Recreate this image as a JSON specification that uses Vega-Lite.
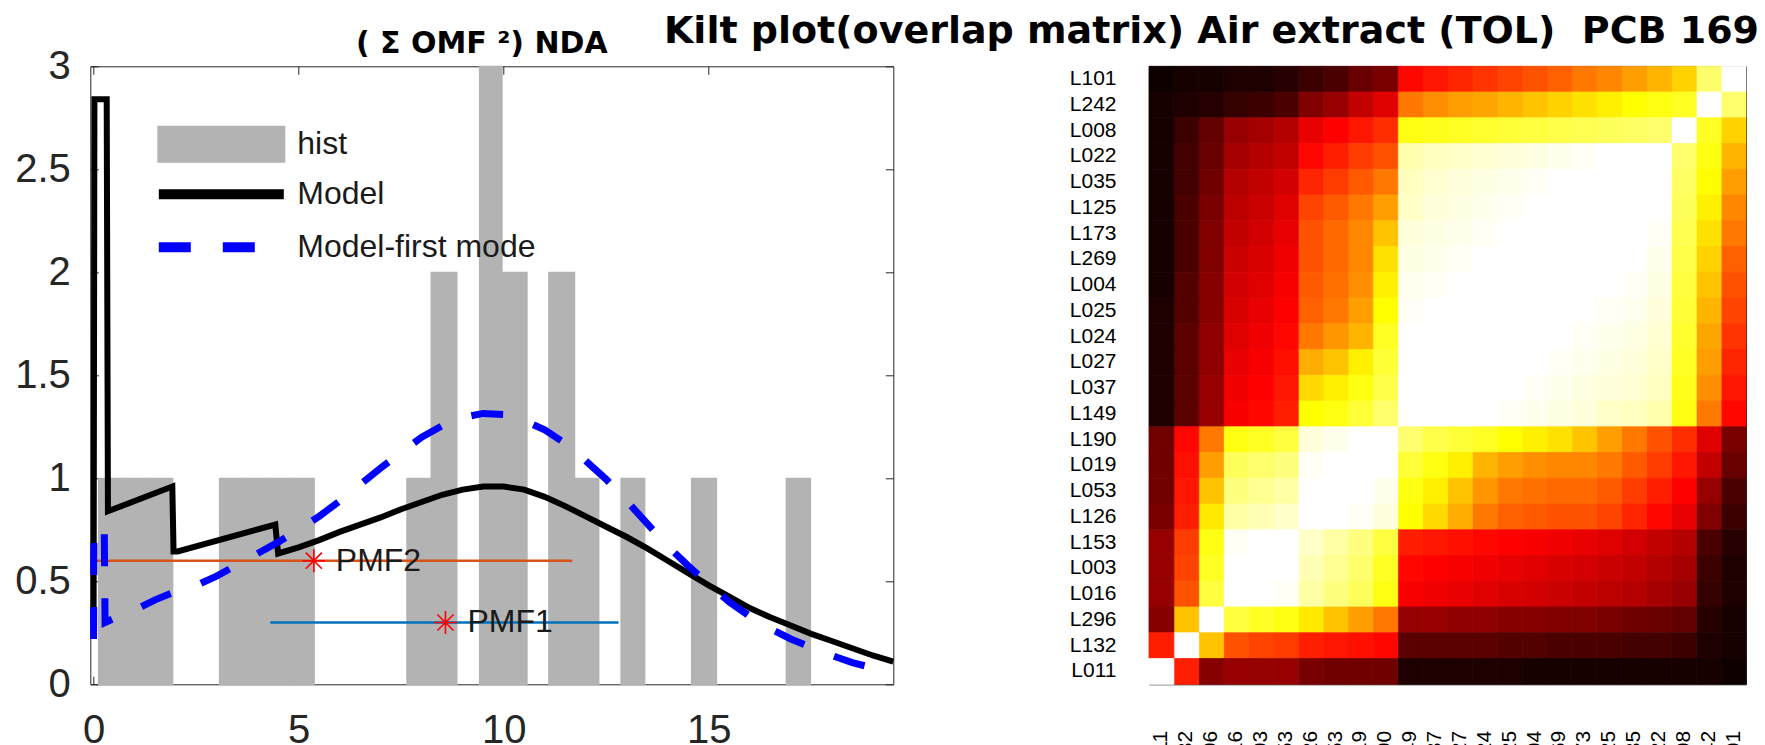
{
"$schema": "https://vega.github.io/schema/vega-lite/v6.json",
"background": "white",
"padding": {"left": 13.3, "top": 11.3, "right": 5, "bottom": 0},
"bounds": "flush",
"spacing": 255.7,
"config": {"view": {"stroke": "#262626", "strokeWidth": 1}, "axis": {"grid": false}},
"datasets": {
"hist": [
{"x0":0.12,"x1":0.72,"n":1,"series":"hist"},{"x0":0.72,"x1":1.33,"n":1,"series":"hist"},{"x0":1.33,"x1":1.93,"n":1,"series":"hist"},
{"x0":3.07,"x1":3.65,"n":1,"series":"hist"},{"x0":3.65,"x1":4.22,"n":1,"series":"hist"},{"x0":4.22,"x1":4.8,"n":1,"series":"hist"},{"x0":4.8,"x1":5.38,"n":1,"series":"hist"},
{"x0":7.64,"x1":8.23,"n":1,"series":"hist"},{"x0":8.23,"x1":8.86,"n":2,"series":"hist"},{"x0":9.41,"x1":9.96,"n":3,"series":"hist"},{"x0":9.96,"x1":10.57,"n":2,"series":"hist"},
{"x0":11.1,"x1":11.73,"n":2,"series":"hist"},{"x0":11.73,"x1":12.32,"n":1,"series":"hist"},{"x0":12.86,"x1":13.44,"n":1,"series":"hist"},{"x0":14.58,"x1":15.19,"n":1,"series":"hist"},{"x0":16.89,"x1":17.48,"n":1,"series":"hist"}
],
"model": [
{"i":0,"x":0.0,"y":0.30,"series":"Model"},{"i":1,"x":0.02,"y":2.84,"series":"Model"},{"i":2,"x":0.32,"y":2.84,"series":"Model"},{"i":3,"x":0.35,"y":0.84,"series":"Model"},
{"i":4,"x":1.92,"y":0.96,"series":"Model"},{"i":5,"x":1.95,"y":0.645,"series":"Model"},{"i":6,"x":2.05,"y":0.645,"series":"Model"},{"i":7,"x":4.43,"y":0.775,"series":"Model"},
{"i":8,"x":4.5,"y":0.635,"series":"Model"},{"i":9,"x":5.0,"y":0.665,"series":"Model"},{"i":10,"x":5.5,"y":0.70,"series":"Model"},{"i":11,"x":6.0,"y":0.74,"series":"Model"},
{"i":12,"x":6.5,"y":0.775,"series":"Model"},{"i":13,"x":7.0,"y":0.81,"series":"Model"},{"i":14,"x":7.5,"y":0.85,"series":"Model"},{"i":15,"x":8.0,"y":0.885,"series":"Model"},
{"i":16,"x":8.5,"y":0.92,"series":"Model"},{"i":17,"x":9.0,"y":0.945,"series":"Model"},{"i":18,"x":9.5,"y":0.96,"series":"Model"},{"i":19,"x":10.0,"y":0.96,"series":"Model"},
{"i":20,"x":10.5,"y":0.945,"series":"Model"},{"i":21,"x":11.0,"y":0.91,"series":"Model"},{"i":22,"x":11.5,"y":0.865,"series":"Model"},{"i":23,"x":12.0,"y":0.815,"series":"Model"},
{"i":24,"x":12.5,"y":0.765,"series":"Model"},{"i":25,"x":13.0,"y":0.715,"series":"Model"},{"i":26,"x":13.5,"y":0.66,"series":"Model"},{"i":27,"x":14.0,"y":0.60,"series":"Model"},
{"i":28,"x":14.5,"y":0.54,"series":"Model"},{"i":29,"x":15.0,"y":0.48,"series":"Model"},{"i":30,"x":15.5,"y":0.425,"series":"Model"},{"i":31,"x":16.0,"y":0.37,"series":"Model"},
{"i":32,"x":16.5,"y":0.325,"series":"Model"},{"i":33,"x":17.0,"y":0.285,"series":"Model"},{"i":34,"x":17.5,"y":0.245,"series":"Model"},{"i":35,"x":18.0,"y":0.21,"series":"Model"},
{"i":36,"x":18.5,"y":0.175,"series":"Model"},{"i":37,"x":19.0,"y":0.14,"series":"Model"},{"i":38,"x":19.5,"y":0.11,"series":"Model"}
],
"first": [
{"i":0,"x":0.0,"y":0.22,"series":"Model-first mode"},{"i":1,"x":0.01,"y":0.76,"series":"Model-first mode"},{"i":2,"x":0.26,"y":0.76,"series":"Model-first mode"},{"i":3,"x":0.28,"y":0.30,"series":"Model-first mode"},
{"i":4,"x":0.5,"y":0.32,"series":"Model-first mode"},{"i":5,"x":1.0,"y":0.36,"series":"Model-first mode"},{"i":6,"x":1.5,"y":0.41,"series":"Model-first mode"},{"i":7,"x":2.0,"y":0.45,"series":"Model-first mode"},
{"i":8,"x":2.5,"y":0.48,"series":"Model-first mode"},{"i":9,"x":3.0,"y":0.525,"series":"Model-first mode"},{"i":10,"x":3.5,"y":0.58,"series":"Model-first mode"},{"i":11,"x":4.0,"y":0.635,"series":"Model-first mode"},
{"i":12,"x":4.5,"y":0.69,"series":"Model-first mode"},{"i":13,"x":5.0,"y":0.75,"series":"Model-first mode"},{"i":14,"x":5.5,"y":0.815,"series":"Model-first mode"},{"i":15,"x":6.0,"y":0.89,"series":"Model-first mode"},
{"i":16,"x":6.5,"y":0.97,"series":"Model-first mode"},{"i":17,"x":7.0,"y":1.05,"series":"Model-first mode"},{"i":18,"x":7.5,"y":1.125,"series":"Model-first mode"},{"i":19,"x":8.0,"y":1.2,"series":"Model-first mode"},
{"i":20,"x":8.5,"y":1.255,"series":"Model-first mode"},{"i":21,"x":9.0,"y":1.295,"series":"Model-first mode"},{"i":22,"x":9.5,"y":1.315,"series":"Model-first mode"},{"i":23,"x":10.0,"y":1.31,"series":"Model-first mode"},
{"i":24,"x":10.5,"y":1.28,"series":"Model-first mode"},{"i":25,"x":11.0,"y":1.235,"series":"Model-first mode"},{"i":26,"x":11.5,"y":1.17,"series":"Model-first mode"},{"i":27,"x":12.0,"y":1.085,"series":"Model-first mode"},
{"i":28,"x":12.5,"y":0.995,"series":"Model-first mode"},{"i":29,"x":13.0,"y":0.89,"series":"Model-first mode"},{"i":30,"x":13.5,"y":0.78,"series":"Model-first mode"},{"i":31,"x":14.0,"y":0.67,"series":"Model-first mode"},
{"i":32,"x":14.5,"y":0.575,"series":"Model-first mode"},{"i":33,"x":15.0,"y":0.485,"series":"Model-first mode"},{"i":34,"x":15.5,"y":0.40,"series":"Model-first mode"},{"i":35,"x":16.0,"y":0.33,"series":"Model-first mode"},
{"i":36,"x":16.5,"y":0.27,"series":"Model-first mode"},{"i":37,"x":17.0,"y":0.22,"series":"Model-first mode"},{"i":38,"x":17.5,"y":0.18,"series":"Model-first mode"},{"i":39,"x":18.0,"y":0.14,"series":"Model-first mode"},
{"i":40,"x":18.5,"y":0.105,"series":"Model-first mode"},{"i":41,"x":19.0,"y":0.08,"series":"Model-first mode"},{"i":42,"x":19.5,"y":0.05,"series":"Model-first mode"}
],
"pmf": [
{"name":"PMF1","mu":8.58,"lo":4.31,"hi":12.8,"level":0.3},
{"name":"PMF2","mu":5.37,"lo":0.0,"hi":11.67,"level":0.6}
],
"kilt": [
{"a":"L101","b":"L101","v":1},{"a":"L101","b":"L242","v":0.8},{"a":"L101","b":"L008","v":0.62},{"a":"L101","b":"L022","v":0.58},{"a":"L101","b":"L035","v":0.55},{"a":"L101","b":"L125","v":0.52},{"a":"L101","b":"L173","v":0.5},{"a":"L101","b":"L269","v":0.47},{"a":"L101","b":"L004","v":0.45},{"a":"L101","b":"L025","v":0.43},{"a":"L101","b":"L024","v":0.41},{"a":"L101","b":"L027","v":0.39},{"a":"L101","b":"L037","v":0.37},{"a":"L101","b":"L149","v":0.35},{"a":"L101","b":"L190","v":0.16},{"a":"L101","b":"L019","v":0.14},{"a":"L101","b":"L053","v":0.1},{"a":"L101","b":"L126","v":0.08},{"a":"L101","b":"L153","v":0.05},{"a":"L101","b":"L003","v":0.04},{"a":"L101","b":"L016","v":0.04},{"a":"L101","b":"L296","v":0.03},{"a":"L101","b":"L132","v":0.03},{"a":"L101","b":"L011","v":0.02},
{"a":"L242","b":"L101","v":0.8},{"a":"L242","b":"L242","v":1},{"a":"L242","b":"L008","v":0.72},{"a":"L242","b":"L022","v":0.7},{"a":"L242","b":"L035","v":0.68},{"a":"L242","b":"L125","v":0.66},{"a":"L242","b":"L173","v":0.64},{"a":"L242","b":"L269","v":0.62},{"a":"L242","b":"L004","v":0.6},{"a":"L242","b":"L025","v":0.58},{"a":"L242","b":"L024","v":0.56},{"a":"L242","b":"L027","v":0.55},{"a":"L242","b":"L037","v":0.53},{"a":"L242","b":"L149","v":0.5},{"a":"L242","b":"L190","v":0.3},{"a":"L242","b":"L019","v":0.26},{"a":"L242","b":"L053","v":0.2},{"a":"L242","b":"L126","v":0.17},{"a":"L242","b":"L153","v":0.1},{"a":"L242","b":"L003","v":0.08},{"a":"L242","b":"L016","v":0.07},{"a":"L242","b":"L296","v":0.05},{"a":"L242","b":"L132","v":0.04},{"a":"L242","b":"L011","v":0.03},
{"a":"L008","b":"L101","v":0.62},{"a":"L008","b":"L242","v":0.72},{"a":"L008","b":"L008","v":1},{"a":"L008","b":"L022","v":0.8},{"a":"L008","b":"L035","v":0.79},{"a":"L008","b":"L125","v":0.78},{"a":"L008","b":"L173","v":0.77},{"a":"L008","b":"L269","v":0.76},{"a":"L008","b":"L004","v":0.75},{"a":"L008","b":"L025","v":0.74},{"a":"L008","b":"L024","v":0.73},{"a":"L008","b":"L027","v":0.72},{"a":"L008","b":"L037","v":0.71},{"a":"L008","b":"L149","v":0.7},{"a":"L008","b":"L190","v":0.4},{"a":"L008","b":"L019","v":0.37},{"a":"L008","b":"L053","v":0.34},{"a":"L008","b":"L126","v":0.31},{"a":"L008","b":"L153","v":0.24},{"a":"L008","b":"L003","v":0.22},{"a":"L008","b":"L016","v":0.2},{"a":"L008","b":"L296","v":0.13},{"a":"L008","b":"L132","v":0.08},{"a":"L008","b":"L011","v":0.03},
{"a":"L022","b":"L101","v":0.58},{"a":"L022","b":"L242","v":0.7},{"a":"L022","b":"L008","v":0.8},{"a":"L022","b":"L022","v":1},{"a":"L022","b":"L035","v":0.97},{"a":"L022","b":"L125","v":0.96},{"a":"L022","b":"L173","v":0.95},{"a":"L022","b":"L269","v":0.94},{"a":"L022","b":"L004","v":0.93},{"a":"L022","b":"L025","v":0.92},{"a":"L022","b":"L024","v":0.91},{"a":"L022","b":"L027","v":0.9},{"a":"L022","b":"L037","v":0.89},{"a":"L022","b":"L149","v":0.87},{"a":"L022","b":"L190","v":0.45},{"a":"L022","b":"L019","v":0.42},{"a":"L022","b":"L053","v":0.38},{"a":"L022","b":"L126","v":0.35},{"a":"L022","b":"L153","v":0.26},{"a":"L022","b":"L003","v":0.24},{"a":"L022","b":"L016","v":0.22},{"a":"L022","b":"L296","v":0.14},{"a":"L022","b":"L132","v":0.09},{"a":"L022","b":"L011","v":0.03},
{"a":"L035","b":"L101","v":0.55},{"a":"L035","b":"L242","v":0.68},{"a":"L035","b":"L008","v":0.79},{"a":"L035","b":"L022","v":0.97},{"a":"L035","b":"L035","v":1},{"a":"L035","b":"L125","v":0.98},{"a":"L035","b":"L173","v":0.97},{"a":"L035","b":"L269","v":0.96},{"a":"L035","b":"L004","v":0.95},{"a":"L035","b":"L025","v":0.94},{"a":"L035","b":"L024","v":0.93},{"a":"L035","b":"L027","v":0.92},{"a":"L035","b":"L037","v":0.91},{"a":"L035","b":"L149","v":0.89},{"a":"L035","b":"L190","v":0.5},{"a":"L035","b":"L019","v":0.46},{"a":"L035","b":"L053","v":0.42},{"a":"L035","b":"L126","v":0.39},{"a":"L035","b":"L153","v":0.28},{"a":"L035","b":"L003","v":0.26},{"a":"L035","b":"L016","v":0.24},{"a":"L035","b":"L296","v":0.15},{"a":"L035","b":"L132","v":0.09},{"a":"L035","b":"L011","v":0.03},
{"a":"L125","b":"L101","v":0.52},{"a":"L125","b":"L242","v":0.66},{"a":"L125","b":"L008","v":0.78},{"a":"L125","b":"L022","v":0.96},{"a":"L125","b":"L035","v":0.98},{"a":"L125","b":"L125","v":1},{"a":"L125","b":"L173","v":0.98},{"a":"L125","b":"L269","v":0.97},{"a":"L125","b":"L004","v":0.96},{"a":"L125","b":"L025","v":0.95},{"a":"L125","b":"L024","v":0.94},{"a":"L125","b":"L027","v":0.93},{"a":"L125","b":"L037","v":0.92},{"a":"L125","b":"L149","v":0.9},{"a":"L125","b":"L190","v":0.55},{"a":"L125","b":"L019","v":0.5},{"a":"L125","b":"L053","v":0.46},{"a":"L125","b":"L126","v":0.43},{"a":"L125","b":"L153","v":0.3},{"a":"L125","b":"L003","v":0.27},{"a":"L125","b":"L016","v":0.25},{"a":"L125","b":"L296","v":0.16},{"a":"L125","b":"L132","v":0.1},{"a":"L125","b":"L011","v":0.03},
{"a":"L173","b":"L101","v":0.5},{"a":"L173","b":"L242","v":0.64},{"a":"L173","b":"L008","v":0.77},{"a":"L173","b":"L022","v":0.95},{"a":"L173","b":"L035","v":0.97},{"a":"L173","b":"L125","v":0.98},{"a":"L173","b":"L173","v":1},{"a":"L173","b":"L269","v":0.98},{"a":"L173","b":"L004","v":0.97},{"a":"L173","b":"L025","v":0.96},{"a":"L173","b":"L024","v":0.95},{"a":"L173","b":"L027","v":0.94},{"a":"L173","b":"L037","v":0.93},{"a":"L173","b":"L149","v":0.92},{"a":"L173","b":"L190","v":0.6},{"a":"L173","b":"L019","v":0.52},{"a":"L173","b":"L053","v":0.48},{"a":"L173","b":"L126","v":0.45},{"a":"L173","b":"L153","v":0.31},{"a":"L173","b":"L003","v":0.28},{"a":"L173","b":"L016","v":0.26},{"a":"L173","b":"L296","v":0.17},{"a":"L173","b":"L132","v":0.1},{"a":"L173","b":"L011","v":0.03},
{"a":"L269","b":"L101","v":0.47},{"a":"L269","b":"L242","v":0.62},{"a":"L269","b":"L008","v":0.76},{"a":"L269","b":"L022","v":0.94},{"a":"L269","b":"L035","v":0.96},{"a":"L269","b":"L125","v":0.97},{"a":"L269","b":"L173","v":0.98},{"a":"L269","b":"L269","v":1},{"a":"L269","b":"L004","v":0.98},{"a":"L269","b":"L025","v":0.97},{"a":"L269","b":"L024","v":0.96},{"a":"L269","b":"L027","v":0.95},{"a":"L269","b":"L037","v":0.94},{"a":"L269","b":"L149","v":0.93},{"a":"L269","b":"L190","v":0.64},{"a":"L269","b":"L019","v":0.52},{"a":"L269","b":"L053","v":0.48},{"a":"L269","b":"L126","v":0.45},{"a":"L269","b":"L153","v":0.32},{"a":"L269","b":"L003","v":0.29},{"a":"L269","b":"L016","v":0.27},{"a":"L269","b":"L296","v":0.17},{"a":"L269","b":"L132","v":0.1},{"a":"L269","b":"L011","v":0.03},
{"a":"L004","b":"L101","v":0.45},{"a":"L004","b":"L242","v":0.6},{"a":"L004","b":"L008","v":0.75},{"a":"L004","b":"L022","v":0.93},{"a":"L004","b":"L035","v":0.95},{"a":"L004","b":"L125","v":0.96},{"a":"L004","b":"L173","v":0.97},{"a":"L004","b":"L269","v":0.98},{"a":"L004","b":"L004","v":1},{"a":"L004","b":"L025","v":0.98},{"a":"L004","b":"L024","v":0.97},{"a":"L004","b":"L027","v":0.96},{"a":"L004","b":"L037","v":0.95},{"a":"L004","b":"L149","v":0.94},{"a":"L004","b":"L190","v":0.66},{"a":"L004","b":"L019","v":0.53},{"a":"L004","b":"L053","v":0.49},{"a":"L004","b":"L126","v":0.46},{"a":"L004","b":"L153","v":0.33},{"a":"L004","b":"L003","v":0.3},{"a":"L004","b":"L016","v":0.28},{"a":"L004","b":"L296","v":0.18},{"a":"L004","b":"L132","v":0.11},{"a":"L004","b":"L011","v":0.03},
{"a":"L025","b":"L101","v":0.43},{"a":"L025","b":"L242","v":0.58},{"a":"L025","b":"L008","v":0.74},{"a":"L025","b":"L022","v":0.92},{"a":"L025","b":"L035","v":0.94},{"a":"L025","b":"L125","v":0.95},{"a":"L025","b":"L173","v":0.96},{"a":"L025","b":"L269","v":0.97},{"a":"L025","b":"L004","v":0.98},{"a":"L025","b":"L025","v":1},{"a":"L025","b":"L024","v":0.98},{"a":"L025","b":"L027","v":0.97},{"a":"L025","b":"L037","v":0.96},{"a":"L025","b":"L149","v":0.95},{"a":"L025","b":"L190","v":0.68},{"a":"L025","b":"L019","v":0.55},{"a":"L025","b":"L053","v":0.5},{"a":"L025","b":"L126","v":0.47},{"a":"L025","b":"L153","v":0.34},{"a":"L025","b":"L003","v":0.31},{"a":"L025","b":"L016","v":0.29},{"a":"L025","b":"L296","v":0.18},{"a":"L025","b":"L132","v":0.11},{"a":"L025","b":"L011","v":0.04},
{"a":"L024","b":"L101","v":0.41},{"a":"L024","b":"L242","v":0.56},{"a":"L024","b":"L008","v":0.73},{"a":"L024","b":"L022","v":0.91},{"a":"L024","b":"L035","v":0.93},{"a":"L024","b":"L125","v":0.94},{"a":"L024","b":"L173","v":0.95},{"a":"L024","b":"L269","v":0.96},{"a":"L024","b":"L004","v":0.97},{"a":"L024","b":"L025","v":0.98},{"a":"L024","b":"L024","v":1},{"a":"L024","b":"L027","v":0.98},{"a":"L024","b":"L037","v":0.97},{"a":"L024","b":"L149","v":0.96},{"a":"L024","b":"L190","v":0.72},{"a":"L024","b":"L019","v":0.58},{"a":"L024","b":"L053","v":0.54},{"a":"L024","b":"L126","v":0.5},{"a":"L024","b":"L153","v":0.35},{"a":"L024","b":"L003","v":0.32},{"a":"L024","b":"L016","v":0.3},{"a":"L024","b":"L296","v":0.19},{"a":"L024","b":"L132","v":0.12},{"a":"L024","b":"L011","v":0.04},
{"a":"L027","b":"L101","v":0.39},{"a":"L027","b":"L242","v":0.55},{"a":"L027","b":"L008","v":0.72},{"a":"L027","b":"L022","v":0.9},{"a":"L027","b":"L035","v":0.92},{"a":"L027","b":"L125","v":0.93},{"a":"L027","b":"L173","v":0.94},{"a":"L027","b":"L269","v":0.95},{"a":"L027","b":"L004","v":0.96},{"a":"L027","b":"L025","v":0.97},{"a":"L027","b":"L024","v":0.98},{"a":"L027","b":"L027","v":1},{"a":"L027","b":"L037","v":0.98},{"a":"L027","b":"L149","v":0.97},{"a":"L027","b":"L190","v":0.74},{"a":"L027","b":"L019","v":0.66},{"a":"L027","b":"L053","v":0.6},{"a":"L027","b":"L126","v":0.57},{"a":"L027","b":"L153","v":0.36},{"a":"L027","b":"L003","v":0.33},{"a":"L027","b":"L016","v":0.31},{"a":"L027","b":"L296","v":0.19},{"a":"L027","b":"L132","v":0.12},{"a":"L027","b":"L011","v":0.04},
{"a":"L037","b":"L101","v":0.37},{"a":"L037","b":"L242","v":0.53},{"a":"L037","b":"L008","v":0.71},{"a":"L037","b":"L022","v":0.89},{"a":"L037","b":"L035","v":0.91},{"a":"L037","b":"L125","v":0.92},{"a":"L037","b":"L173","v":0.93},{"a":"L037","b":"L269","v":0.94},{"a":"L037","b":"L004","v":0.95},{"a":"L037","b":"L025","v":0.96},{"a":"L037","b":"L024","v":0.97},{"a":"L037","b":"L027","v":0.98},{"a":"L037","b":"L037","v":1},{"a":"L037","b":"L149","v":0.98},{"a":"L037","b":"L190","v":0.76},{"a":"L037","b":"L019","v":0.7},{"a":"L037","b":"L053","v":0.66},{"a":"L037","b":"L126","v":0.63},{"a":"L037","b":"L153","v":0.37},{"a":"L037","b":"L003","v":0.34},{"a":"L037","b":"L016","v":0.32},{"a":"L037","b":"L296","v":0.2},{"a":"L037","b":"L132","v":0.12},{"a":"L037","b":"L011","v":0.04},
{"a":"L149","b":"L101","v":0.35},{"a":"L149","b":"L242","v":0.5},{"a":"L149","b":"L008","v":0.7},{"a":"L149","b":"L022","v":0.87},{"a":"L149","b":"L035","v":0.89},{"a":"L149","b":"L125","v":0.9},{"a":"L149","b":"L173","v":0.92},{"a":"L149","b":"L269","v":0.93},{"a":"L149","b":"L004","v":0.94},{"a":"L149","b":"L025","v":0.95},{"a":"L149","b":"L024","v":0.96},{"a":"L149","b":"L027","v":0.97},{"a":"L149","b":"L037","v":0.98},{"a":"L149","b":"L149","v":1},{"a":"L149","b":"L190","v":0.8},{"a":"L149","b":"L019","v":0.74},{"a":"L149","b":"L053","v":0.7},{"a":"L149","b":"L126","v":0.68},{"a":"L149","b":"L153","v":0.38},{"a":"L149","b":"L003","v":0.35},{"a":"L149","b":"L016","v":0.33},{"a":"L149","b":"L296","v":0.2},{"a":"L149","b":"L132","v":0.12},{"a":"L149","b":"L011","v":0.04},
{"a":"L190","b":"L101","v":0.16},{"a":"L190","b":"L242","v":0.3},{"a":"L190","b":"L008","v":0.4},{"a":"L190","b":"L022","v":0.45},{"a":"L190","b":"L035","v":0.5},{"a":"L190","b":"L125","v":0.55},{"a":"L190","b":"L173","v":0.6},{"a":"L190","b":"L269","v":0.64},{"a":"L190","b":"L004","v":0.66},{"a":"L190","b":"L025","v":0.68},{"a":"L190","b":"L024","v":0.72},{"a":"L190","b":"L027","v":0.74},{"a":"L190","b":"L037","v":0.76},{"a":"L190","b":"L149","v":0.8},{"a":"L190","b":"L190","v":1},{"a":"L190","b":"L019","v":0.96},{"a":"L190","b":"L053","v":0.94},{"a":"L190","b":"L126","v":0.92},{"a":"L190","b":"L153","v":0.75},{"a":"L190","b":"L003","v":0.72},{"a":"L190","b":"L016","v":0.7},{"a":"L190","b":"L296","v":0.5},{"a":"L190","b":"L132","v":0.35},{"a":"L190","b":"L011","v":0.15},
{"a":"L019","b":"L101","v":0.14},{"a":"L019","b":"L242","v":0.26},{"a":"L019","b":"L008","v":0.37},{"a":"L019","b":"L022","v":0.42},{"a":"L019","b":"L035","v":0.46},{"a":"L019","b":"L125","v":0.5},{"a":"L019","b":"L173","v":0.52},{"a":"L019","b":"L269","v":0.52},{"a":"L019","b":"L004","v":0.53},{"a":"L019","b":"L025","v":0.55},{"a":"L019","b":"L024","v":0.58},{"a":"L019","b":"L027","v":0.66},{"a":"L019","b":"L037","v":0.7},{"a":"L019","b":"L149","v":0.74},{"a":"L019","b":"L190","v":0.96},{"a":"L019","b":"L019","v":1},{"a":"L019","b":"L053","v":0.97},{"a":"L019","b":"L126","v":0.95},{"a":"L019","b":"L153","v":0.82},{"a":"L019","b":"L003","v":0.8},{"a":"L019","b":"L016","v":0.78},{"a":"L019","b":"L296","v":0.55},{"a":"L019","b":"L132","v":0.36},{"a":"L019","b":"L011","v":0.15},
{"a":"L053","b":"L101","v":0.1},{"a":"L053","b":"L242","v":0.2},{"a":"L053","b":"L008","v":0.34},{"a":"L053","b":"L022","v":0.38},{"a":"L053","b":"L035","v":0.42},{"a":"L053","b":"L125","v":0.46},{"a":"L053","b":"L173","v":0.48},{"a":"L053","b":"L269","v":0.48},{"a":"L053","b":"L004","v":0.49},{"a":"L053","b":"L025","v":0.5},{"a":"L053","b":"L024","v":0.54},{"a":"L053","b":"L027","v":0.6},{"a":"L053","b":"L037","v":0.66},{"a":"L053","b":"L149","v":0.7},{"a":"L053","b":"L190","v":0.94},{"a":"L053","b":"L019","v":0.97},{"a":"L053","b":"L053","v":1},{"a":"L053","b":"L126","v":0.97},{"a":"L053","b":"L153","v":0.86},{"a":"L053","b":"L003","v":0.84},{"a":"L053","b":"L016","v":0.82},{"a":"L053","b":"L296","v":0.6},{"a":"L053","b":"L132","v":0.37},{"a":"L053","b":"L011","v":0.15},
{"a":"L126","b":"L101","v":0.08},{"a":"L126","b":"L242","v":0.17},{"a":"L126","b":"L008","v":0.31},{"a":"L126","b":"L022","v":0.35},{"a":"L126","b":"L035","v":0.39},{"a":"L126","b":"L125","v":0.43},{"a":"L126","b":"L173","v":0.45},{"a":"L126","b":"L269","v":0.45},{"a":"L126","b":"L004","v":0.46},{"a":"L126","b":"L025","v":0.47},{"a":"L126","b":"L024","v":0.5},{"a":"L126","b":"L027","v":0.57},{"a":"L126","b":"L037","v":0.63},{"a":"L126","b":"L149","v":0.68},{"a":"L126","b":"L190","v":0.92},{"a":"L126","b":"L019","v":0.95},{"a":"L126","b":"L053","v":0.97},{"a":"L126","b":"L126","v":1},{"a":"L126","b":"L153","v":0.9},{"a":"L126","b":"L003","v":0.88},{"a":"L126","b":"L016","v":0.86},{"a":"L126","b":"L296","v":0.65},{"a":"L126","b":"L132","v":0.38},{"a":"L126","b":"L011","v":0.16},
{"a":"L153","b":"L101","v":0.05},{"a":"L153","b":"L242","v":0.1},{"a":"L153","b":"L008","v":0.24},{"a":"L153","b":"L022","v":0.26},{"a":"L153","b":"L035","v":0.28},{"a":"L153","b":"L125","v":0.3},{"a":"L153","b":"L173","v":0.31},{"a":"L153","b":"L269","v":0.32},{"a":"L153","b":"L004","v":0.33},{"a":"L153","b":"L025","v":0.34},{"a":"L153","b":"L024","v":0.35},{"a":"L153","b":"L027","v":0.36},{"a":"L153","b":"L037","v":0.37},{"a":"L153","b":"L149","v":0.38},{"a":"L153","b":"L190","v":0.75},{"a":"L153","b":"L019","v":0.82},{"a":"L153","b":"L053","v":0.86},{"a":"L153","b":"L126","v":0.9},{"a":"L153","b":"L153","v":1},{"a":"L153","b":"L003","v":0.97},{"a":"L153","b":"L016","v":0.95},{"a":"L153","b":"L296","v":0.7},{"a":"L153","b":"L132","v":0.42},{"a":"L153","b":"L011","v":0.2},
{"a":"L003","b":"L101","v":0.04},{"a":"L003","b":"L242","v":0.08},{"a":"L003","b":"L008","v":0.22},{"a":"L003","b":"L022","v":0.24},{"a":"L003","b":"L035","v":0.26},{"a":"L003","b":"L125","v":0.27},{"a":"L003","b":"L173","v":0.28},{"a":"L003","b":"L269","v":0.29},{"a":"L003","b":"L004","v":0.3},{"a":"L003","b":"L025","v":0.31},{"a":"L003","b":"L024","v":0.32},{"a":"L003","b":"L027","v":0.33},{"a":"L003","b":"L037","v":0.34},{"a":"L003","b":"L149","v":0.35},{"a":"L003","b":"L190","v":0.72},{"a":"L003","b":"L019","v":0.8},{"a":"L003","b":"L053","v":0.84},{"a":"L003","b":"L126","v":0.88},{"a":"L003","b":"L153","v":0.97},{"a":"L003","b":"L003","v":1},{"a":"L003","b":"L016","v":0.97},{"a":"L003","b":"L296","v":0.72},{"a":"L003","b":"L132","v":0.43},{"a":"L003","b":"L011","v":0.2},
{"a":"L016","b":"L101","v":0.04},{"a":"L016","b":"L242","v":0.07},{"a":"L016","b":"L008","v":0.2},{"a":"L016","b":"L022","v":0.22},{"a":"L016","b":"L035","v":0.24},{"a":"L016","b":"L125","v":0.25},{"a":"L016","b":"L173","v":0.26},{"a":"L016","b":"L269","v":0.27},{"a":"L016","b":"L004","v":0.28},{"a":"L016","b":"L025","v":0.29},{"a":"L016","b":"L024","v":0.3},{"a":"L016","b":"L027","v":0.31},{"a":"L016","b":"L037","v":0.32},{"a":"L016","b":"L149","v":0.33},{"a":"L016","b":"L190","v":0.7},{"a":"L016","b":"L019","v":0.78},{"a":"L016","b":"L053","v":0.82},{"a":"L016","b":"L126","v":0.86},{"a":"L016","b":"L153","v":0.95},{"a":"L016","b":"L003","v":0.97},{"a":"L016","b":"L016","v":1},{"a":"L016","b":"L296","v":0.75},{"a":"L016","b":"L132","v":0.45},{"a":"L016","b":"L011","v":0.2},
{"a":"L296","b":"L101","v":0.03},{"a":"L296","b":"L242","v":0.05},{"a":"L296","b":"L008","v":0.13},{"a":"L296","b":"L022","v":0.14},{"a":"L296","b":"L035","v":0.15},{"a":"L296","b":"L125","v":0.16},{"a":"L296","b":"L173","v":0.17},{"a":"L296","b":"L269","v":0.17},{"a":"L296","b":"L004","v":0.18},{"a":"L296","b":"L025","v":0.18},{"a":"L296","b":"L024","v":0.19},{"a":"L296","b":"L027","v":0.19},{"a":"L296","b":"L037","v":0.2},{"a":"L296","b":"L149","v":0.2},{"a":"L296","b":"L190","v":0.5},{"a":"L296","b":"L019","v":0.55},{"a":"L296","b":"L053","v":0.6},{"a":"L296","b":"L126","v":0.65},{"a":"L296","b":"L153","v":0.7},{"a":"L296","b":"L003","v":0.72},{"a":"L296","b":"L016","v":0.75},{"a":"L296","b":"L296","v":1},{"a":"L296","b":"L132","v":0.6},{"a":"L296","b":"L011","v":0.18},
{"a":"L132","b":"L101","v":0.03},{"a":"L132","b":"L242","v":0.04},{"a":"L132","b":"L008","v":0.08},{"a":"L132","b":"L022","v":0.09},{"a":"L132","b":"L035","v":0.09},{"a":"L132","b":"L125","v":0.1},{"a":"L132","b":"L173","v":0.1},{"a":"L132","b":"L269","v":0.1},{"a":"L132","b":"L004","v":0.11},{"a":"L132","b":"L025","v":0.11},{"a":"L132","b":"L024","v":0.12},{"a":"L132","b":"L027","v":0.12},{"a":"L132","b":"L037","v":0.12},{"a":"L132","b":"L149","v":0.12},{"a":"L132","b":"L190","v":0.35},{"a":"L132","b":"L019","v":0.36},{"a":"L132","b":"L053","v":0.37},{"a":"L132","b":"L126","v":0.38},{"a":"L132","b":"L153","v":0.42},{"a":"L132","b":"L003","v":0.43},{"a":"L132","b":"L016","v":0.45},{"a":"L132","b":"L296","v":0.6},{"a":"L132","b":"L132","v":1},{"a":"L132","b":"L011","v":0.38},
{"a":"L011","b":"L101","v":0.02},{"a":"L011","b":"L242","v":0.03},{"a":"L011","b":"L008","v":0.03},{"a":"L011","b":"L022","v":0.03},{"a":"L011","b":"L035","v":0.03},{"a":"L011","b":"L125","v":0.03},{"a":"L011","b":"L173","v":0.03},{"a":"L011","b":"L269","v":0.03},{"a":"L011","b":"L004","v":0.03},{"a":"L011","b":"L025","v":0.04},{"a":"L011","b":"L024","v":0.04},{"a":"L011","b":"L027","v":0.04},{"a":"L011","b":"L037","v":0.04},{"a":"L011","b":"L149","v":0.04},{"a":"L011","b":"L190","v":0.15},{"a":"L011","b":"L019","v":0.15},{"a":"L011","b":"L053","v":0.15},{"a":"L011","b":"L126","v":0.16},{"a":"L011","b":"L153","v":0.2},{"a":"L011","b":"L003","v":0.2},{"a":"L011","b":"L016","v":0.2},{"a":"L011","b":"L296","v":0.18},{"a":"L011","b":"L132","v":0.38},{"a":"L011","b":"L011","v":1}
]
},
"hconcat": [
{
"width": 803, "height": 618,
"title": {"text": "( Σ OMF ²) NDA", "font": "DejaVu Sans", "fontSize": 30, "fontWeight": "bold", "color": "#000000", "anchor": "middle", "dx": -10, "offset": -36.7, "baseline": "alphabetic"},
"resolve": {"axis": {"x": "independent", "y": "independent"}},
"layer": [
{
"data": {"name": "hist"},
"mark": {"type": "rect", "stroke": "#b3b3b3", "strokeWidth": 1.2},
"encoding": {
"x": {"field": "x0", "type": "quantitative", "scale": {"domain": [-0.08, 19.5], "nice": false, "zero": false},
 "axis": {"orient": "bottom", "values": [0, 5, 10, 15], "title": null, "grid": false, "domain": false, "tickSize": -8, "tickColor": "#262626", "labelFont": "Liberation Sans", "labelFontSize": 40, "labelColor": "#262626", "labelPadding": 34, "labelFlush": false, "labelOverlap": false}},
"x2": {"field": "x1"},
"y": {"field": "n", "type": "quantitative", "scale": {"domain": [0, 3], "nice": false, "zero": true},
 "axis": {"orient": "left", "values": [0, 0.5, 1, 1.5, 2, 2.5, 3], "format": "~g", "title": null, "grid": false, "domain": false, "tickSize": -8, "tickColor": "#262626", "labelFont": "Liberation Sans", "labelFontSize": 40, "labelColor": "#262626", "labelPadding": 28, "labelFlush": false, "labelOverlap": false}},
"y2": {"datum": 0},
"fill": {"field": "series", "type": "nominal",
 "scale": {"domain": ["hist"], "range": ["#b3b3b3"]},
 "legend": {"title": null, "orient": "none", "legendX": 67, "legendY": 62, "padding": 0, "direction": "vertical",
  "labelFont": "Liberation Sans", "labelFontSize": 32, "labelColor": "#1a1a1a", "labelLimit": 500,
  "symbolType": "M-6.4,-1.85L6.4,-1.85L6.4,1.85L-6.4,1.85Z", "symbolSize": 400, "symbolStrokeWidth": 0, "symbolOpacity": 1, "symbolFillColor": "#b3b3b3",
  "symbolOffset": 48, "labelOffset": 60}}
}
},
{
"data": {"name": "pmf"},
"transform": [{"filter": "datum.name === 'PMF2'"}],
"mark": {"type": "rule", "color": "#D95319", "strokeWidth": 2.5},
"encoding": {
"x": {"field": "lo", "type": "quantitative", "axis": null},
"x2": {"field": "hi"},
"y": {"field": "level", "type": "quantitative", "axis": null}
}
},
{
"data": {"name": "pmf"},
"transform": [{"filter": "datum.name === 'PMF1'"}],
"mark": {"type": "rule", "color": "#0072BD", "strokeWidth": 2.5},
"encoding": {
"x": {"field": "lo", "type": "quantitative", "axis": null},
"x2": {"field": "hi"},
"y": {"field": "level", "type": "quantitative", "axis": null}
}
},
{
"data": {"name": "model"},
"mark": {"type": "line", "strokeWidth": 6, "strokeJoin": "miter"},
"encoding": {
"x": {"field": "x", "type": "quantitative",
 "axis": {"orient": "top", "values": [0, 5, 10, 15], "labels": false, "title": null, "grid": false, "domain": false, "tickSize": -8, "tickColor": "#262626"}},
"y": {"field": "y", "type": "quantitative",
 "axis": {"orient": "right", "values": [0, 0.5, 1, 1.5, 2, 2.5, 3], "labels": false, "title": null, "grid": false, "domain": false, "tickSize": -8, "tickColor": "#262626"}},
"order": {"field": "i"},
"stroke": {"field": "series", "type": "nominal",
 "scale": {"domain": ["Model"], "range": ["#000000"]},
 "legend": {"title": null, "orient": "none", "legendX": 67, "legendY": 112, "padding": 0, "direction": "vertical",
  "labelFont": "Liberation Sans", "labelFontSize": 32, "labelColor": "#1a1a1a", "labelLimit": 500,
  "symbolType": "M-6.25,0L6.25,0", "symbolSize": 400, "symbolStrokeWidth": 10, "symbolOpacity": 1, "symbolStrokeColor": "#000000",
  "symbolOffset": 48, "labelOffset": 60}}
}
},
{
"data": {"name": "first"},
"mark": {"type": "line", "strokeWidth": 7, "strokeDash": [32, 32]},
"encoding": {
"x": {"field": "x", "type": "quantitative", "axis": null},
"y": {"field": "y", "type": "quantitative", "axis": null},
"order": {"field": "i"},
"color": {"field": "series", "type": "nominal",
 "scale": {"domain": ["Model-first mode"], "range": ["#0000ff"]},
 "legend": {"title": null, "orient": "none", "legendX": 67, "legendY": 165, "padding": 0, "direction": "vertical",
  "labelFont": "Liberation Sans", "labelFontSize": 32, "labelColor": "#1a1a1a", "labelLimit": 500,
  "symbolType": "M-6.25,0L6.25,0", "symbolSize": 400, "symbolStrokeWidth": 10, "symbolOpacity": 1, "symbolStrokeColor": "#0000ff", "symbolDash": [32, 32],
  "symbolOffset": 48, "labelOffset": 60}}
}
},
{
"data": {"name": "pmf"},
"mark": {"type": "point", "shape": "M-1,0L1,0M0,-1L0,1M-0.7,-0.7L0.7,0.7M-0.7,0.7L0.7,-0.7", "size": 529, "filled": false, "color": "#ff0000", "strokeWidth": 1.6, "opacity": 1},
"encoding": {
"x": {"field": "mu", "type": "quantitative", "axis": null},
"y": {"field": "level", "type": "quantitative", "axis": null}
}
},
{
"data": {"name": "pmf"},
"mark": {"type": "text", "align": "left", "baseline": "middle", "dx": 22, "font": "Liberation Sans", "fontSize": 32, "color": "#1a1a1a"},
"encoding": {
"x": {"field": "mu", "type": "quantitative", "axis": null},
"y": {"field": "level", "type": "quantitative", "axis": null},
"text": {"field": "name"}
}
}
]
},
{
"width": 597, "height": 618,
"title": {"text": "Kilt plot(overlap matrix) Air extract (TOL)\u00a0 PCB 169", "font": "DejaVu Sans", "fontSize": 38, "fontWeight": "bold", "color": "#000000", "anchor": "middle", "dx": -236, "offset": -14.7, "baseline": "alphabetic"},
"data": {"name": "kilt"},
"mark": {"type": "rect", "strokeWidth": 0.8},
"encoding": {
"y": {"field": "a", "type": "ordinal",
 "sort": ["L101","L242","L008","L022","L035","L125","L173","L269","L004","L025","L024","L027","L037","L149","L190","L019","L053","L126","L153","L003","L016","L296","L132","L011"],
 "axis": {"title": null, "ticks": false, "domain": false, "labelFont": "Liberation Sans", "labelFontSize": 21, "labelColor": "#000000", "labelPadding": 33}},
"x": {"field": "b", "type": "ordinal",
 "sort": ["L011","L132","L296","L016","L003","L153","L126","L053","L019","L190","L149","L037","L027","L024","L025","L004","L269","L173","L125","L035","L022","L008","L242","L101"],
 "axis": {"orient": "bottom", "title": null, "ticks": false, "domain": false, "labelAngle": -90, "labelFont": "Liberation Sans", "labelFontSize": 21, "labelColor": "#000000", "labelPadding": 46, "labelOverlap": false}},
"color": {"field": "v", "type": "quantitative",
 "scale": {"domain": [0, 0.34, 0.68, 0.96], "range": ["#000000", "#ff0000", "#ffff00", "#ffffff"], "interpolate": "rgb", "clamp": true},
 "legend": null},
"stroke": {"field": "v", "type": "quantitative",
 "scale": {"domain": [0, 0.34, 0.68, 0.96], "range": ["#000000", "#ff0000", "#ffff00", "#ffffff"], "interpolate": "rgb", "clamp": true},
 "legend": null}
}
}
]
}
